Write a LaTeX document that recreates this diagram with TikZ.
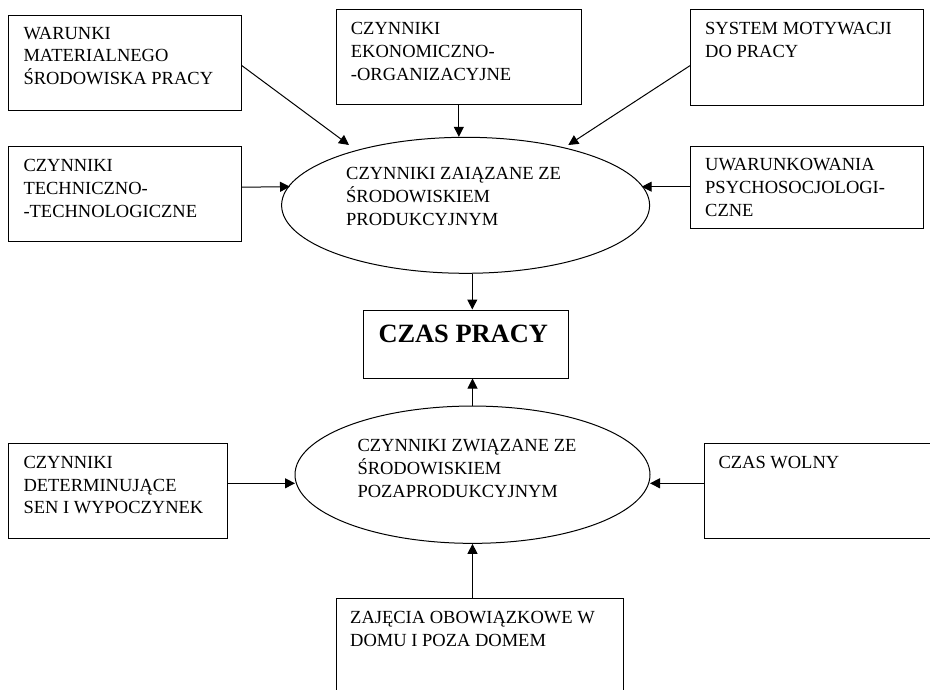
\documentclass[tikz,border=0pt]{standalone}
\usepackage{fontspec}
\setmainfont{Liberation Serif}
\usetikzlibrary{arrows.meta,shapes.geometric}
% multi-line label whose baseline is the baseline of its first line
\newcommand\linestack[1]{\begin{tabular}[t]{@{}l@{}}#1\end{tabular}}
\begin{document}
\begin{tikzpicture}[x=1pt,y=-1pt,
  box/.style={draw, line width=1pt, rectangle, inner sep=0pt, anchor=north west},
  oval/.style={draw, line width=1pt, ellipse, inner sep=0pt},
  lbl/.style={inner sep=0pt, anchor=base west, font=\fontsize{18.5}{22.7}\selectfont},
  arr/.style={line width=1pt, -{Triangle[length=10pt,width=10pt]}}]
\fill[white] (0,0) rectangle (930,690);
\useasboundingbox (0,0) rectangle (930,690);

% outer boxes
\node[box, minimum width=232.4pt, minimum height=95pt]   (mat)  at (8.3,15) {};
\node[box, minimum width=245.3pt, minimum height=94.7pt] (eko)  at (335.7,9.3) {};
\node[box, minimum width=232.7pt, minimum height=95.7pt] (mot)  at (690,9.3) {};
\node[box, minimum width=232.4pt, minimum height=95pt]   (tech) at (8.3,145.7) {};
\node[box, minimum width=232.7pt, minimum height=82.6pt] (psy)  at (690,145.7) {};
\node[box, minimum width=204.7pt, minimum height=68pt]   (czas) at (363,309.5) {};
\node[box, minimum width=219pt,   minimum height=95.3pt] (sen)  at (8.3,442.7) {};
\node[box, minimum width=240pt,   minimum height=95.3pt] (wol)  at (703.7,442.7) {};
\node[box, minimum width=287pt,   minimum height=110pt]  (dom)  at (335.7,598) {};

% ellipses
\node[oval, minimum width=368pt, minimum height=136pt] (prod)  at (465.6,205.3) {};
\node[oval, minimum width=355pt, minimum height=137.3pt] (poza) at (472.5,474.7) {};

% texts
\node[lbl] (matt)  at (23.3,39.3)  {\linestack{WARUNKI\\MATERIALNEGO\\ŚRODOWISKA PRACY}};
\node[lbl] (ekot)  at (350.7,35)   {\linestack{CZYNNIKI\\EKONOMICZNO-\\-ORGANIZACYJNE}};
\node[lbl] (mott)  at (705,35)     {\linestack{SYSTEM MOTYWACJI\\DO PRACY}};
\node[lbl] (techt) at (23.3,171.7) {\linestack{CZYNNIKI\\TECHNICZNO-\\-TECHNOLOGICZNE}};
\node[lbl] (psyt)  at (705,171)    {\linestack{UWARUNKOWANIA\\PSYCHOSOCJOLOGI-\\CZNE}};
\node[lbl] (prodt) at (346,180)    {\linestack{CZYNNIKI ZAIĄZANE ZE\\ŚRODOWISKIEM\\PRODUKCYJNYM}};
\node[lbl, font=\fontsize{26.4}{30}\selectfont\bfseries] (czast) at (378.3,342.7) {CZAS PRACY};
\node[lbl] (sent)  at (23.3,468.3) {\linestack{CZYNNIKI\\DETERMINUJĄCE\\SEN I WYPOCZYNEK}};
\node[lbl] (pozat) at (357.3,451.7) {\linestack{CZYNNIKI ZWIĄZANE ZE\\ŚRODOWISKIEM\\POZAPRODUKCYJNYM}};
\node[lbl] (wolt)  at (718.3,468.3) {CZAS WOLNY};
\node[lbl] (domt)  at (350,623.3)  {\linestack{ZAJĘCIA OBOWIĄZKOWE W\\DOMU I POZA DOMEM}};

% arrow tips resting on the ellipses
\coordinate (pA) at (349,145);
\coordinate (pB) at (568.3,145);
\coordinate (pL) at (290,186.7);
\coordinate (pR) at (641.7,186.7);
\coordinate (qL) at (295,483.3);
\coordinate (qR) at (650,483.3);

% connectors
\draw[arr] ([yshift=-2.5pt]mat.east) -- (pA);
\draw[arr] (eko.south) -- (eko.south |- prod.north);
\draw[arr] ([yshift=-8pt]mot.west) -- (pB);
\draw[arr] ([yshift=6.5pt]tech.east) -- (pL);
\draw[arr] (psy.west |- pR) -- (pR);
\draw[arr] ([xshift=6.7pt]prod.south) -- ([xshift=6.7pt]prod.south |- czas.north);
\draw[arr] (poza.north) -- (poza.north |- czas.south);
\draw[arr] (sen.east |- qL) -- (qL);
\draw[arr] (wol.west |- qR) -- (qR);
\draw[arr] (poza.south |- dom.north) -- (poza.south);
\end{tikzpicture}
\end{document}
